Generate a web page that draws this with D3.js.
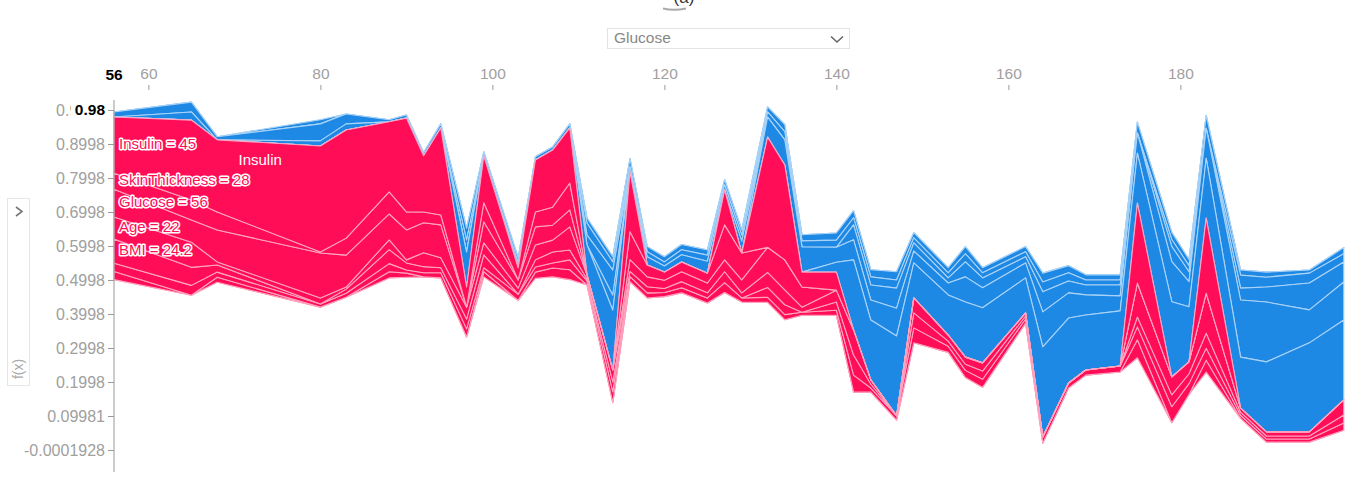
<!DOCTYPE html>
<html><head><meta charset="utf-8">
<script src="https://cdn.jsdelivr.net/npm/d3@7"></script>
<style>body{margin:0;background:#fff;font-family:Arial,"Liberation Sans",sans-serif}</style>
</head><body><svg id="c" width="1362" height="496"></svg>
<script>
// ---------- data ----------
const glucose = [56,65,68,80,83,88,90,92,94,97,99,103,105,107,109,111,114,116,118,120,122,125,127,129,132,134,136,140,142,144,147,149,153,155,157,162,164,167,169,173,175,179,181,183,187,190,195,199];
const fx = [0.979,0.970,0.912,0.894,0.941,0.965,0.976,0.865,0.947,0.479,0.865,0.535,0.853,0.882,0.947,0.515,0.235,0.818,0.544,0.523,0.553,0.520,0.765,0.579,0.920,0.838,0.523,0.523,0.353,0.206,0.100,0.447,0.338,0.273,0.256,0.403,0.038,0.197,0.235,0.247,0.726,0.215,0.259,0.682,0.123,0.053,0.053,0.147];
const features = ["Insulin","SkinThickness","Glucose","Age","BMI","Pregnancies","DiabetesPedigreeFunction","BloodPressure"];
const shapInsulin = [.165,.235,.212,.312,.318,.206,.276,.165,.256,.059,.138,.035,.153,.168,.162,-.029,-.074,.176,-.024,-.018,-.021,-.035,.103,-.035,.324,.279,.044,.053,-.044,-.044,-.059,-.024,-.015,-.044,-.029,-.018,-.059,-.035,-.029,-.032,.235,-.044,-.029,.221,-.035,-.044,-.079,-.059];
const shapSkinThickness = [.047,.059,.053,.003,.05,.065,.053,.032,.029,0,.056,0,.044,.053,.079,0,-.044,.082,.035,.024,.029,.029,.103,.079,-.059,-.074,-.074,-.044,-.059,-.059,-.082,-.035,-.035,-.074,-.059,-.044,-.103,-.074,-.059,-.044,-.059,-.118,-.074,-.088,-.168,-.176,-.097,-.112];
const shapGlucose = [.082,.065,.094,.132,.094,.076,.088,.088,.097,-.103,.062,.024,.053,.044,.05,-.088,-.176,.035,.029,.024,.029,.029,.035,.038,.074,.088,.059,-.029,-.206,-.176,-.235,-.103,-.118,-.162,-.162,-.103,-.265,-.191,-.162,-.162,-.147,-.221,-.162,-.176,-.15,-.206,-.262,-.235];
const shapAge = [.065,.074,.009,.018,.006,.029,.009,.041,.029,.035,.035,.018,.044,.035,.068,.012,.035,.015,.018,.012,.018,.015,.032,.015,.044,.044,.015,.035,.074,.012,0,.044,.018,.021,.024,.009,0,0,0,0,.1,.053,.035,.118,.012,.012,.012,.044];
const shapBMI = [.071,.053,.021,-.012,.012,.041,.021,.018,.015,.029,.038,0,.021,.032,.029,.006,.029,0,0,0,0,0,0,0,.029,.029,0,.024,.059,.012,0,.044,.015,.018,.024,.009,0,0,0,0,.029,.035,.029,.044,.009,.009,.009,.024];
const shapPregnancies = [.024,.029,.015,.009,.012,.024,.009,.012,.015,.024,.012,.018,.015,.015,.029,.012,.032,.015,.015,.012,.015,.015,.029,.012,.015,.015,.009,.015,.05,.012,.012,.044,.018,.021,.024,.012,.018,.015,.015,.018,.038,.047,.032,.035,.009,.009,.009,.021];
const shapDPF = [.024,-.024,.015,-.015,-.018,.018,.012,0,0,-.035,.015,-.015,.018,.026,.029,-.035,-.024,-.015,-.015,-.012,-.015,-.018,-.015,-.018,-.015,-.024,-.018,-.021,-.021,-.024,-.024,-.015,-.015,-.024,-.015,-.015,-.029,-.024,-.015,-.015,.053,-.021,-.018,.035,-.038,-.029,-.029,-.024];
const shapBloodPressure = [-.015,-.029,-.009,-.05,-.029,-.006,-.009,-.009,-.012,-.035,-.012,-.015,-.009,-.009,-.012,-.015,-.015,-.024,-.015,-.015,-.015,-.015,-.015,-.015,-.015,-.021,-.018,-.021,-.021,-.021,-.024,-.015,-.015,-.021,-.015,-.015,-.026,-.021,-.015,-.015,-.032,-.021,-.018,-.038,-.015,-.015,-.009,-.018];
const xTickValues = [60,80,100,120,140,160,180];
const yTickValues = [0.9998,0.8998,0.7998,0.6998,0.5998,0.4998,0.3998,0.2998,0.1998,0.09981,-0.0001928];
const yTickLabels = ["0.9998","0.8998","0.7998","0.6998","0.5998","0.4998","0.3998","0.2998","0.1998","0.09981","-0.0001928"];
const hoverIndex = 0;
const hoverFeatures = ["Insulin","SkinThickness","Glucose","Age","BMI"];
const hoverValues = ["45","28","56","22","24.2"];
const insideLabel = {text:"Insulin", g:73, v:0.849};
const selectedFeature = "Glucose";

// ---------- setup ----------
const shap = {Insulin:shapInsulin, SkinThickness:shapSkinThickness, Glucose:shapGlucose, Age:shapAge, BMI:shapBMI,
  Pregnancies:shapPregnancies, DiabetesPedigreeFunction:shapDPF, BloodPressure:shapBloodPressure};
const posOrder = features;
const negOrder = ["Glucose","SkinThickness","Insulin","DiabetesPedigreeFunction","BloodPressure","Age","BMI","Pregnancies"];
const RED="#ff0d57", BLUE="#1e88e5";
const svg = d3.select("#c");
const x = d3.scaleLinear().domain([56,199]).range([114,1343.8]);
const y = d3.scaleLinear().domain([-0.0001928,0.9998]).range([450,110]);

// stacks
const posCur = fx.slice(), negCur = fx.slice();
const posBands = posOrder.map(f => ({f, pts: glucose.map((g,i)=>{const v=Math.max(0,shap[f][i]);const t=posCur[i];posCur[i]=t-v;return {g,a:t,b:t-v};})}));
const negBands = negOrder.map(f => ({f, pts: glucose.map((g,i)=>{const v=Math.max(0,-shap[f][i]);const t=negCur[i];negCur[i]=t+v;return {g,a:t,b:t+v};})}));
const area = d3.area().x(d=>x(d.g)).y0(d=>y(d.a)).y1(d=>y(d.b)).curve(d3.curveLinear);

const plot = svg.append("g");
plot.selectAll(".nb").data(negBands.slice().reverse()).join("path")
  .attr("d", d=>area(d.pts)).attr("fill", BLUE).attr("stroke", "#a9d3f7").attr("stroke-width", 1.1).attr("stroke-linejoin","round");
plot.selectAll(".pb").data(posBands.slice().reverse()).join("path")
  .attr("d", d=>area(d.pts)).attr("fill", RED).attr("stroke", "#ffa3bf").attr("stroke-width", 1.1).attr("stroke-linejoin","round");

// ---------- axes ----------
const axisColor = "#a0a0a0";
svg.append("line").attr("x1",x(56)).attr("x2",x(56)).attr("y1",100).attr("y2",472).attr("stroke","#999").attr("stroke-width",1);
const yAxis = d3.axisLeft(y).tickValues(yTickValues).tickFormat((d,i)=>yTickLabels[i]).tickSize(6).tickPadding(3);
const ya = svg.append("g").attr("transform",`translate(${x(56)},0)`).call(yAxis);
ya.select(".domain").remove();
ya.selectAll("line").attr("stroke","#999");
ya.selectAll("text").attr("fill",axisColor).style("font-size","16px").style("font-family","Arial, 'Liberation Sans', sans-serif");

const xAxis = d3.axisTop(x).tickValues(xTickValues).tickSize(5).tickPadding(6);
const xa = svg.append("g").attr("transform","translate(0,90)").call(xAxis);
xa.select(".domain").remove();
xa.selectAll("line").attr("stroke","#999");
xa.selectAll("text").attr("fill",axisColor).style("font-size","15.5px").style("font-family","Arial, 'Liberation Sans', sans-serif");

// hover highlight (selected sample)
svg.append("rect").attr("x",71).attr("y",100).attr("width",36).attr("height",19).attr("fill","#fff");
svg.append("text").attr("x",105).attr("y",y(fx[hoverIndex])-6).attr("text-anchor","end").attr("dominant-baseline","middle")
  .attr("font-weight","bold").attr("font-size","15.5px").attr("fill","#000").text(fx[hoverIndex].toFixed(2));
svg.append("text").attr("x",x(glucose[hoverIndex])).attr("y",80).attr("text-anchor","middle")
  .attr("font-weight","bold").attr("font-size","15.5px").attr("fill","#000").text(glucose[hoverIndex]);

// hover feature labels
hoverFeatures.forEach((f,k)=>{
  const band = posBands.find(b=>b.f===f).pts[hoverIndex];
  svg.append("text").attr("x",x(glucose[hoverIndex])+5).attr("y",y((band.a+band.b)/2))
    .attr("dominant-baseline","middle").attr("font-size","15px")
    .attr("fill",RED).attr("stroke","#fff").attr("stroke-width",3).attr("paint-order","stroke").attr("stroke-linejoin","round")
    .text(`${f} = ${hoverValues[k]}`);
});
svg.append("text").attr("x",x(insideLabel.g)).attr("y",y(insideLabel.v)).attr("text-anchor","middle")
  .attr("dominant-baseline","middle").attr("font-size","15px").attr("fill","#fff").text(insideLabel.text);

// ---------- controls ----------
svg.append("rect").attr("x",607.5).attr("y",28.5).attr("width",242).attr("height",20).attr("fill","#fff").attr("stroke","#e3e3e3");
svg.append("text").attr("x",614).attr("y",39).attr("dominant-baseline","middle").attr("font-size","15.5px").attr("fill","#888").text(selectedFeature);
svg.append("path").attr("d","M831,36.5 L837,42 L843,36.5").attr("fill","none").attr("stroke","#666").attr("stroke-width",1.6);

svg.append("rect").attr("x",7.5).attr("y",198.5).attr("width",22).attr("height",187).attr("fill","#fff").attr("stroke","#e6e6e6");
svg.append("path").attr("d","M16,207 L22,211.5 L16,216").attr("fill","none").attr("stroke","#777").attr("stroke-width",1.6);
svg.append("text").attr("transform","translate(19,369) rotate(-90)").attr("text-anchor","middle").attr("dominant-baseline","middle")
  .attr("font-size","14px").attr("fill","#aaa").text("f(x)");

svg.append("text").attr("x",684).attr("y",3).attr("text-anchor","middle").attr("font-size","17px").attr("fill","#333").text("(a)");
svg.append("path").attr("d","M663,8.5 Q674,11 686,8.5").attr("fill","none").attr("stroke","#aaa").attr("stroke-width",2);
</script></body></html>
